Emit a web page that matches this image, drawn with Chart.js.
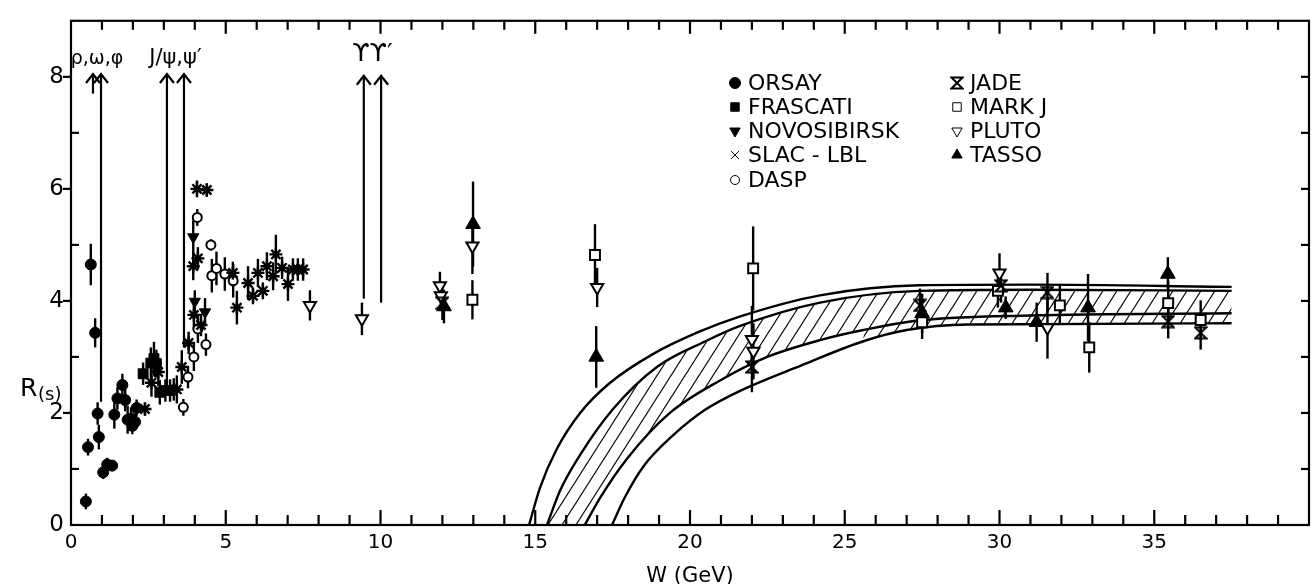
<!DOCTYPE html>
<html><head><meta charset="utf-8">
<script src="https://cdn.jsdelivr.net/npm/chart.js@4.4.1/dist/chart.umd.min.js"></script>
<style>html,body{margin:0;padding:0;background:#fff;overflow:hidden}</style>
</head><body><canvas id="c" width="1315" height="584"></canvas>
<script>
// ---------------- data ----------------
const orsayX=[0.48,0.55,0.64,0.78,0.86,0.9,1.04,1.17,1.33,1.4,1.5,1.66,1.75,1.83,1.94,1.98,2.07,2.12];
const orsayY=[0.42,1.39,4.65,3.43,1.99,1.57,0.94,1.08,1.06,1.97,2.26,2.5,2.23,1.88,1.9,1.77,1.84,2.09];
const orsayErr=[0.14,0.15,0.37,0.26,0.2,0.22,0.12,0.12,0.1,0.25,0.2,0.2,0.2,0.25,0.2,0.15,0.15,0.15];

const frascatiX=[2.33,2.58,2.68,2.76,2.87,3.05,3.2];
const frascatiY=[2.7,2.89,2.97,2.88,2.37,2.4,2.4];
const frascatiErr=[0.2,0.28,0.3,0.25,0.22,0.2,0.2];

const novoX=[3.95,4.0,4.33];
const novoY=[5.14,3.99,3.8];
const novoErr=[0.3,0.2,0.25];

const slacX=[2.39,2.6,2.82,3.42,3.58,3.8,3.97,4.07,4.39,4.1,3.95,4.2,5.23,5.36,5.72,5.88,6.04,6.2,6.33,6.53,6.62,6.82,7.01,7.17,7.33,7.5];
const slacY=[2.07,2.54,2.73,2.42,2.82,3.25,3.75,6.0,5.98,4.76,4.62,3.57,4.5,3.88,4.32,4.09,4.5,4.18,4.62,4.44,4.83,4.59,4.3,4.56,4.56,4.56];
const slacErr=[0.12,0.25,0.25,0.25,0.3,0.2,0.25,0.15,0.12,0.2,0.25,0.2,0.2,0.3,0.3,0.15,0.25,0.15,0.25,0.25,0.35,0.2,0.3,0.2,0.2,0.2];

const daspX=[3.32,3.63,3.78,3.97,4.1,4.36,4.08,4.52,4.55,4.7,4.97,5.24];
const daspY=[2.42,2.1,2.64,3.0,3.5,3.22,5.49,5.0,4.45,4.58,4.48,4.36];
const daspErr=[0.2,0.15,0.2,0.25,0.25,0.2,0.15,0.1,0.3,0.3,0.3,0.3];

const jadeX=[12.0,22.0,27.43,30.05,31.55,35.45,36.5];
const jadeY=[3.96,2.82,3.92,4.27,4.15,3.63,3.43];
const jadeErr=[0.3,0.45,0.3,0.3,0.35,0.3,0.3];

const markjX=[12.97,16.93,22.04,27.5,29.95,31.95,32.9,35.45,36.5];
const markjY=[4.02,4.82,4.58,3.62,4.18,3.92,3.17,3.96,3.66];
const markjErr=[0.35,0.55,0.75,0.3,0.3,0.35,0.45,0.4,0.35];

const plutoX=[7.72,9.4,11.92,11.95,12.97,17.0,22.0,22.05,30.0,31.55];
const plutoY=[3.92,3.68,4.27,4.09,4.98,4.24,3.31,3.1,4.5,3.52];
const plutoErr=[0.27,0.29,0.25,0.25,0.5,0.35,0.6,0.5,0.35,0.55];

const tassoX=[12.05,12.99,16.97,27.5,30.2,31.2,32.86,35.44];
const tassoY=[3.9,5.37,3.0,3.78,3.88,3.62,3.88,4.48];
const tassoErr=[0.3,0.76,0.55,0.35,0.2,0.35,0.6,0.3];

// prediction band curves
const outerTopX=[14.8,15.15,15.7,16.45,17.4,18.8,20.3,21.6,24.2,27.4,31,37.5];
const outerTopY=[0,0.66,1.36,2.0,2.53,3.05,3.45,3.72,4.1,4.28,4.29,4.25];
const innerTopX=[15.38,15.8,16.45,17.5,18.93,20.5,21.6,24.2,27.4,31,37.5];
const innerTopY=[0,0.61,1.25,2.06,2.82,3.28,3.55,3.97,4.18,4.2,4.18];
const innerBotX=[16.6,17.1,17.96,19.35,20.97,22.4,24.2,25.6,27.4,31,37.5];
const innerBotY=[0,0.49,1.18,2.0,2.58,2.98,3.3,3.48,3.65,3.74,3.78];
const outerBotX=[17.48,17.9,18.5,19.45,20.5,21.6,23.6,25.6,27.0,29,37.5];
const outerBotY=[0,0.5,1.05,1.6,2.06,2.39,2.85,3.28,3.48,3.58,3.6];

// resonances
const resX=[0.71,0.97,3.1,3.65,9.46,10.02];
const resTop=[8.05,8.05,8.05,8.05,8.02,8.02];
const resBottom=[7.7,2.2,2.35,3.17,4.04,3.97];
const resLabels=['ρ,ω,φ','J/ψ,ψ′','ϒϒ′'];
const resGroups=[[0,1],[2,3],[4,5]];

// axes
const xTicksLabeled=[0,5,10,15,20,25,30,35];
const yTicksLabeled=[0,2,4,6,8];

// ---------------- helpers ----------------
function pts(xs,ys){return xs.map((x,i)=>({x:x,y:ys[i]}));}

function makeHatch(){
  const w=14,h=22;
  const c=document.createElement('canvas');c.width=w;c.height=h;
  const g=c.getContext('2d');
  g.strokeStyle='#000';g.lineWidth=1.2;
  for(const dx of [-w,0,w]){g.beginPath();g.moveTo(dx-w*0.2,h+h*0.2);g.lineTo(dx+w*1.2,-h*0.2);g.stroke();}
  return g.createPattern(c,'repeat');
}
function makeHourglass(size,lw){
  const c=document.createElement('canvas');c.width=size;c.height=size;
  const g=c.getContext('2d');g.strokeStyle='#000';g.lineWidth=lw;
  const p=lw/2+0.5, q=size-p;
  g.beginPath();g.moveTo(p,p);g.lineTo(q,p);g.lineTo(p,q);g.lineTo(q,q);g.closePath();g.stroke();
  return c;
}
const hatch=makeHatch();
const hourglass=makeHourglass(14,2);

const curveBase={showLine:true,pointRadius:0,borderColor:'#000',borderWidth:2.4,cubicInterpolationMode:'monotone',fill:false,order:2};

const cFillPts=[{x:innerTopX[0],y:0}].concat(pts(innerBotX,innerBotY));
const cRightPts=pts(innerBotX,innerBotY).filter(p=>p.x>=25.6);

function exp(label,xs,ys,errs,style){
  return Object.assign({label:label,data:pts(xs,ys),errs:errs,showLine:false,order:0,
    borderColor:'#000',backgroundColor:'#000'},style);
}

const datasets=[
  Object.assign({label:'outerTop',data:pts(outerTopX,outerTopY)},curveBase),
  Object.assign({label:'innerTop',data:pts(innerTopX,innerTopY)},curveBase,{fill:{target:4,above:hatch,below:hatch}}),
  Object.assign({label:'innerBot',data:pts(innerBotX,innerBotY)},curveBase),
  Object.assign({label:'outerBot',data:pts(outerBotX,outerBotY)},curveBase),
  Object.assign({label:'cfill',data:cFillPts},curveBase,{borderWidth:0,borderColor:'rgba(0,0,0,0)'}),
  Object.assign({label:'cright',data:cRightPts},curveBase,{borderWidth:0,borderColor:'rgba(0,0,0,0)',fill:{target:3,above:hatch,below:hatch}}),
  exp('ORSAY',orsayX,orsayY,orsayErr,{pointStyle:'circle',pointRadius:5.5,borderWidth:1}),
  exp('FRASCATI',frascatiX,frascatiY,frascatiErr,{pointStyle:'rect',pointRadius:7,borderWidth:1}),
  exp('NOVOSIBIRSK',novoX,novoY,novoErr,{pointStyle:'triangle',pointRotation:180,pointRadius:6.5,borderWidth:1}),
  exp('SLAC-LBL',slacX,slacY,slacErr,{pointStyle:'star',pointRadius:6.5,borderWidth:2.4}),
  exp('DASP',daspX,daspY,daspErr,{pointStyle:'circle',pointRadius:4.5,borderWidth:2,backgroundColor:'#fff'}),
  exp('JADE',jadeX,jadeY,jadeErr,{pointStyle:hourglass,pointRadius:7}),
  exp('MARK J',markjX,markjY,markjErr,{pointStyle:'rect',pointRadius:7,borderWidth:2,backgroundColor:'#fff'}),
  exp('PLUTO',plutoX,plutoY,plutoErr,{pointStyle:'triangle',pointRotation:180,pointRadius:7,borderWidth:2,backgroundColor:'#fff'}),
  exp('TASSO',tassoX,tassoY,tassoErr,{pointStyle:'triangle',pointRadius:8.5,borderWidth:1})
];

// ---------------- plugins ----------------
function seg(ctx,x1,y1,x2,y2){ctx.beginPath();ctx.moveTo(x1,y1);ctx.lineTo(x2,y2);ctx.stroke();}

const errorBars={id:'errorBars',beforeDatasetsDraw(chart){
  const {ctx,scales:{x,y}}=chart;ctx.save();ctx.strokeStyle='#000';ctx.lineWidth=2.4;
  chart.data.datasets.forEach(ds=>{ if(!ds.errs) return;
    ds.data.forEach((p,i)=>{const px=x.getPixelForValue(p.x);
      seg(ctx,px,y.getPixelForValue(p.y-ds.errs[i]),px,y.getPixelForValue(p.y+ds.errs[i]));});});
  ctx.restore();}};

const frame={id:'frame',afterDatasetsDraw(chart){
  const {ctx,chartArea:a,scales:{x,y}}=chart;ctx.save();ctx.strokeStyle='#000';ctx.lineWidth=2.2;
  ctx.strokeRect(a.left,a.top,a.right-a.left,a.bottom-a.top);
  x.ticks.forEach(t=>{const v=t.value;if(v<=x.min||v>=x.max)return;const px=x.getPixelForValue(v);const m=v%5===0;
    seg(ctx,px,a.bottom,px,a.bottom-(m?15:10));seg(ctx,px,a.top,px,a.top+(m?13:9));});
  y.ticks.forEach(t=>{const v=t.value;if(v<=y.min||v>=y.max)return;const py=y.getPixelForValue(v);
    if(v%2===0)seg(ctx,a.left-8,py,a.left,py);else seg(ctx,a.left,py,a.left+8,py);
    seg(ctx,a.right-8,py,a.right,py);});
  // resonance arrows
  ctx.lineWidth=2.2;
  resX.forEach((rx,i)=>{const px=x.getPixelForValue(rx),pt=y.getPixelForValue(resTop[i]),pb=y.getPixelForValue(resBottom[i]);
    seg(ctx,px,pt,px,pb);ctx.beginPath();ctx.moveTo(px-7,pt+9);ctx.lineTo(px,pt);ctx.lineTo(px+7,pt+9);ctx.stroke();});
  ctx.fillStyle='#000';ctx.textAlign='center';ctx.textBaseline='alphabetic';
  resGroups.forEach((g,k)=>{const cx=(x.getPixelForValue(resX[g[0]])+x.getPixelForValue(resX[g[1]]))/2;
    const pt=Math.min(y.getPixelForValue(resTop[g[0]]),y.getPixelForValue(resTop[g[1]]));
    ctx.font=(k===2?'25px':(k===1?'21px':'19px'))+' "DejaVu Sans"';ctx.fillText(resLabels[k],cx,pt-(k===2?15:10));});
  ctx.restore();}};

const legendItems=[
  {col:0,row:0,label:'ORSAY',ds:6},{col:0,row:1,label:'FRASCATI',ds:7},{col:0,row:2,label:'NOVOSIBIRSK',ds:8},
  {col:0,row:3,label:'SLAC - LBL',ds:9,cross:true},{col:0,row:4,label:'DASP',ds:10},
  {col:1,row:0,label:'JADE',ds:11},{col:1,row:1,label:'MARK J',ds:12},{col:1,row:2,label:'PLUTO',ds:13},{col:1,row:3,label:'TASSO',ds:14}];

const legendPlugin={id:'handLegend',afterDraw(chart){
  const ctx=chart.ctx;ctx.save();
  const colX=[735,957],rowY=[83,107,131,155,180];
  legendItems.forEach(it=>{const ds=chart.data.datasets[it.ds];
    const mx=colX[it.col],my=rowY[it.row];
    ctx.fillStyle=ds.backgroundColor;ctx.strokeStyle='#000';
    Chart.helpers.drawPoint(ctx,{pointStyle:it.cross?'crossRot':ds.pointStyle,radius:it.cross?5.5:Math.min(ds.pointRadius,6),
      rotation:ds.pointRotation||0,borderWidth:it.cross?2.8:(ds.borderWidth||1)},mx,my);
    ctx.fillStyle='#000';ctx.font='22px "DejaVu Sans"';ctx.textAlign='left';ctx.textBaseline='middle';
    ctx.fillText(it.label,mx+13,my+1);});
  // axis titles
  const a=chart.chartArea;
  ctx.textBaseline='alphabetic';ctx.textAlign='center';ctx.font='21px "DejaVu Sans"';
  ctx.fillText('W (GeV)',(a.left+a.right)/2,582);
  ctx.textAlign='left';ctx.font='25px "DejaVu Sans"';ctx.fillText('R',20,396);
  ctx.font='18px "DejaVu Sans"';ctx.fillText('(s)',38,400);
  ctx.restore();}};

new Chart(document.getElementById('c'),{
  type:'scatter',
  data:{datasets:datasets},
  options:{
    responsive:false,animation:false,devicePixelRatio:1,
    layout:{padding:{top:9,right:5,left:0,bottom:0},autoPadding:false},
    plugins:{legend:{display:false},tooltip:{enabled:false},filler:{propagate:false}},
    events:[],
    scales:{
      x:{type:'linear',min:0,max:40,
        ticks:{stepSize:1,autoSkip:false,maxRotation:0,color:'#000',padding:6,font:{family:'DejaVu Sans',size:20},
          callback:v=>xTicksLabeled.includes(v)?String(v):''},
        grid:{display:false,drawTicks:false},border:{display:false},
        afterFit:s=>{s.height=59;}},
      y:{type:'linear',min:0,max:9,
        ticks:{stepSize:1,autoSkip:false,color:'#000',padding:7,font:{family:'DejaVu Sans',size:23},
          callback:v=>yTicksLabeled.includes(v)?String(v):''},
        grid:{display:false,drawTicks:false},border:{display:false},
        afterFit:s=>{s.width=71;}}
    }
  },
  plugins:[errorBars,frame,legendPlugin]
});
</script></body></html>
